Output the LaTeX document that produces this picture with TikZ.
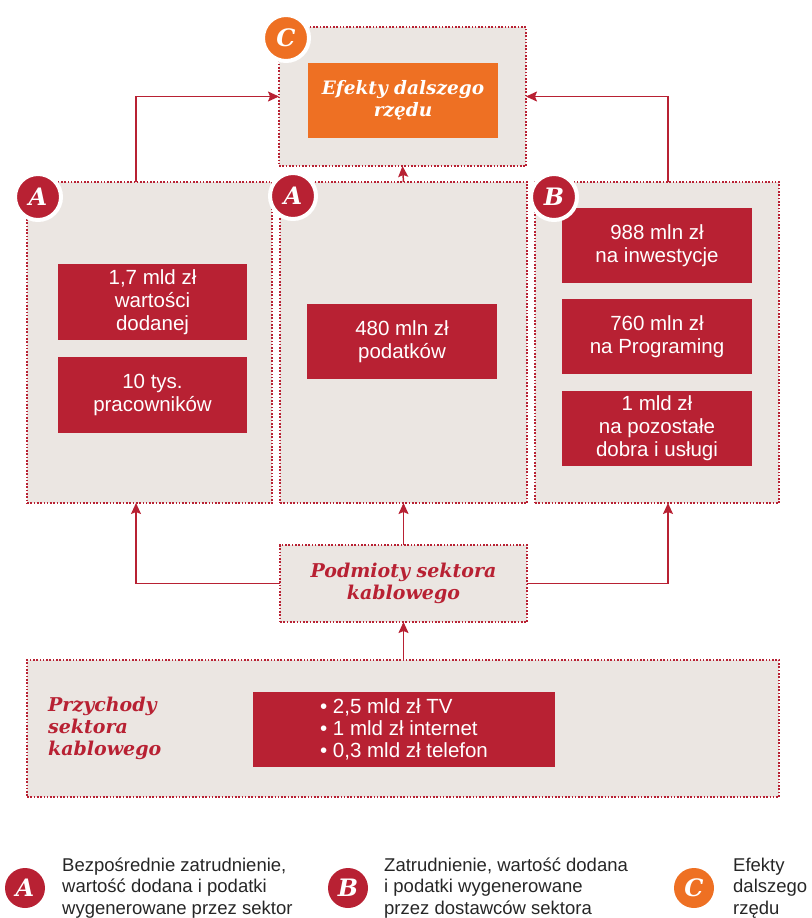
\documentclass[tikz,border=0pt]{standalone}
\usepackage{fontspec}
\setmainfont{Liberation Sans}
\newfontfamily\titlefont{DejaVu Serif}
\usetikzlibrary{positioning,arrows.meta}

\definecolor{pwcred}{HTML}{B82133}
\definecolor{pwcorange}{HTML}{EE7023}
\definecolor{panelgray}{HTML}{EBE6E2}

\begin{document}
\begin{tikzpicture}[x=1pt,y=-1pt,>={Stealth[length=11pt,width=10pt,inset=2pt]},
	panel/.style={draw=pwcred,fill=panelgray,line width=2pt,dash pattern=on 1.6pt off 1.7pt,inner sep=0pt,outer sep=0pt},
	valbox/.style={fill=pwcred,text=white,inner sep=0pt,minimum width=189pt,minimum height=76pt,align=center,font=\fontsize{20.5}{23}\selectfont},
	badge/.style={circle,fill=#1,draw=white,line width=4pt,minimum size=46pt,inner sep=0pt,text=white,font=\titlefont\bfseries\itshape\fontsize{24}{24}\selectfont},
	title/.style={align=center,text=pwcred,font=\titlefont\bfseries\itshape\fontsize{19}{22}\selectfont},
	legtext/.style={anchor=west,align=left,inner sep=0pt,text=black!85,font=\fontsize{18.5}{21.5}\selectfont},
	link/.style={->,draw=pwcred,line width=1.5pt}
	]

	\useasboundingbox (0,0) rectangle (811,918);

	% panels
	\node[panel,minimum width=247pt,minimum height=139pt] (c) at (402.5,96.5) {};
	\node[panel,minimum width=245pt,minimum height=321pt] (a1) at (149.5,342.5) {};
	\node[panel,minimum width=247pt,minimum height=321pt] (a2) at (403.5,342.5) {};
	\node[panel,minimum width=244pt,minimum height=321pt] (b) at (657,342.5) {};
	\node[panel,minimum width=247pt,minimum height=77pt,title] (p) at (403.5,583.5) {Podmioty sektora\\kablowego};
	\node[panel,minimum width=752pt,minimum height=137pt] (rev) at (403,728.5) {};

	% boxes inside the panels
	\node[valbox,fill=pwcorange,minimum width=190pt,minimum height=75pt,font=\titlefont\bfseries\itshape\fontsize{18.5}{22}\selectfont] (eff) at (403,100.5) {Efekty dalszego\\rzędu};
	\node[valbox] (a1v) at (152.5,302) {1,7 mld zł\\wartości\\dodanej};
	\node[valbox] (a1e) at (152.5,394.5) {10 tys.\\pracowników};
	\node[valbox,minimum width=190pt,minimum height=75pt] (a2t) at (402,341.5) {480 mln zł\\podatków};
	\node[valbox,minimum width=190pt,minimum height=75pt] (b1) at (657,245.5) {988 mln zł\\na inwestycje};
	\node[valbox,minimum width=190pt,minimum height=75pt] (b2) at (657,336.5) {760 mln zł\\na Programing};
	\node[valbox,minimum width=190pt,minimum height=75pt] (b3) at (657,428.5) {1 mld zł\\na pozostałe\\dobra i usługi};
	\node[valbox,minimum width=302pt,minimum height=75pt,align=left,font=\fontsize{20.5}{22}\selectfont] (revv) at (404,729.5) {• 2,5 mld zł TV\\• 1 mld zł internet\\• 0,3 mld zł telefon};
	\node[title,anchor=west,align=left,inner sep=0pt] (revt) at (48,728) {Przychody\\sektora\\kablowego};

	% badges
	\node[badge=pwcorange] (cb) at (286,38) {C};
	\node[badge=pwcred] (a1b) at (38,197) {A};
	\node[badge=pwcred] (a2b) at (293,196) {A};
	\node[badge=pwcred] (bb) at (554,197) {B};

	% connectors
	\coordinate (lx) at (136,0);
	\coordinate (rx) at (668,0);
	\draw[link] (lx |- a1.north) |- (c.west);
	\draw[link] (rx |- b.north) |- (c.east);
	\draw[link] (a2.north) -- (c.south);
	\draw[link] (p.west) -| (lx |- a1.south);
	\draw[link] (p.east) -| (rx |- b.south);
	\draw[link] (p.north) -- (a2.south);
	\draw[link] (rev.north -| p.south) -- (p.south);

	% legend
	\node[badge=pwcred,draw=none,minimum size=40pt] (la) at (25,888) {A};
	\node[legtext] (lat) at (62,888) {Bezpośrednie zatrudnienie,\\wartość dodana i podatki\\wygenerowane przez sektor};
	\node[badge=pwcred,draw=none,minimum size=40pt] (lb) at (348,888) {B};
	\node[legtext] (lbt) at (384,888) {Zatrudnienie, wartość dodana\\i podatki wygenerowane\\przez dostawców sektora};
	\node[badge=pwcorange,draw=none,minimum size=40pt] (lc) at (694,888) {C};
	\node[legtext] (lct) at (733,888) {Efekty\\dalszego\\rzędu};

\end{tikzpicture}
\end{document}
